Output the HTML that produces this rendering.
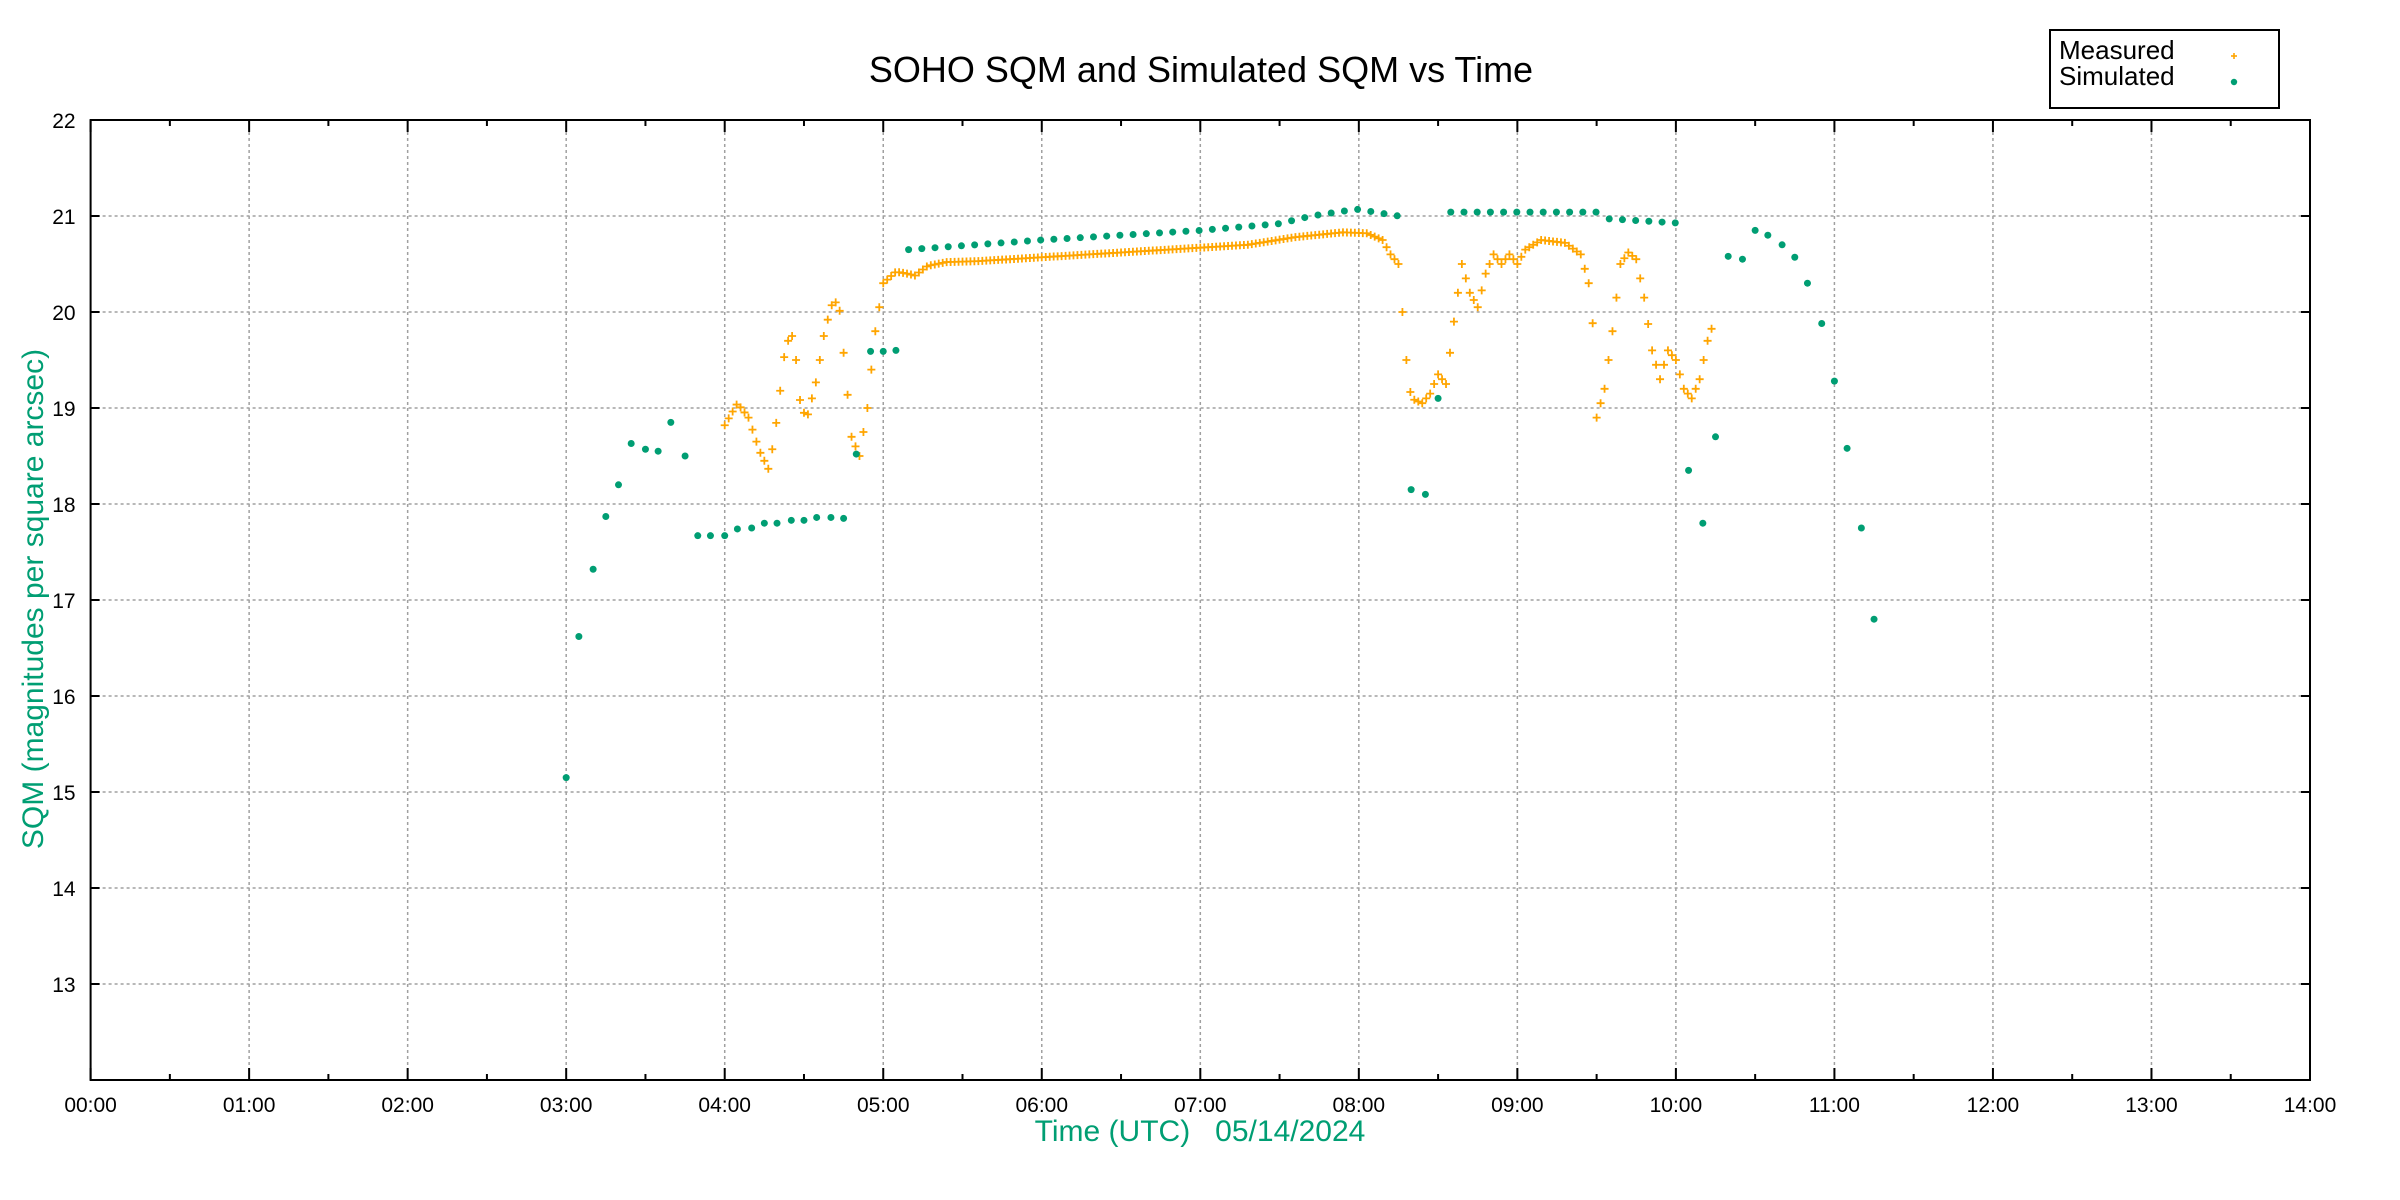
<!DOCTYPE html>
<html><head><meta charset="utf-8"><style>
html,body{margin:0;padding:0;background:#fff;}
svg{display:block;font-family:"Liberation Sans",sans-serif;}
</style></head><body>
<svg id="c" width="2400" height="1200" xmlns="http://www.w3.org/2000/svg">
<rect width="2400" height="1200" fill="#fff"/>
<g id="grid" stroke="#a0a0a0" stroke-width="1.5" stroke-dasharray="3,3"></g>
<g id="axes" stroke="#000" stroke-width="2" fill="none"></g>
<g id="labels" font-size="21" fill="#000"></g>
<g id="meas" stroke="#ffa500" stroke-width="1.8"></g>
<g id="sim" fill="#009e73"></g>
<text x="1201" y="82" font-size="36" text-anchor="middle">SOHO SQM and Simulated SQM vs Time</text>
<text x="1200" y="1141" font-size="30" text-anchor="middle" fill="#009e73">Time (UTC)&#160;&#160;&#160;05/14/2024</text>
<text transform="translate(43,599) rotate(-90)" font-size="30" text-anchor="middle" fill="#009e73">SQM (magnitudes per square arcsec)</text>
<rect x="2050" y="30" width="229" height="78" fill="#fff" stroke="#000" stroke-width="2"/>
<text x="2059" y="59" font-size="26">Measured</text>
<text x="2059" y="85" font-size="26">Simulated</text>
<g stroke="#ffa500" stroke-width="1.6"><line x1="2231" y1="56" x2="2237" y2="56"/><line x1="2234" y1="53" x2="2234" y2="59"/></g>
<circle cx="2234" cy="82" r="3.2" fill="#009e73"/>
</svg>
<script>
var X0=90.6,X1=2310,Y0=120,Y1=1080;
function px(t){return X0+t*(X1-X0)/14;}
function py(v){return Y0+(22-v)*96;}
var ns="http://www.w3.org/2000/svg";
function el(p,n,a,txt){var e=document.createElementNS(ns,n);for(var k in a)e.setAttribute(k,a[k]);if(txt!==undefined)e.textContent=txt;document.getElementById(p).appendChild(e);return e;}
for(var h=1;h<14;h++){el('grid','line',{x1:px(h),y1:Y0,x2:px(h),y2:Y1});}
for(var v=13;v<22;v++){el('grid','line',{x1:X0,y1:py(v),x2:X1,y2:py(v)});}
el('axes','rect',{x:X0,y:Y0,width:X1-X0,height:Y1-Y0});
for(var h=0;h<=28;h++){var t=h/2,L=(h%2==0)?12:6;var x=px(t);
el('axes','line',{x1:x,y1:Y1,x2:x,y2:Y1-L});el('axes','line',{x1:x,y1:Y0,x2:x,y2:Y0+L});
if(h%2==0){var hh=t<10?'0'+t:''+t;el('labels','text',{x:x,y:Y1+32,'text-anchor':'middle'},hh+':00');}}
for(var v=13;v<=22;v++){var y=py(v);el('axes','line',{x1:X0,y1:y,x2:X0+9,y2:y});el('axes','line',{x1:X1,y1:y,x2:X1-9,y2:y});
el('labels','text',{x:X0-15,y:y+8,'text-anchor':'end'},''+v);}
var K=[[4.0,18.82],[4.08,19.05],[4.15,18.9],[4.22,18.55],[4.28,18.35],[4.33,18.9],[4.38,19.6],[4.42,19.8],[4.45,19.5],[4.48,19.0],[4.52,18.9],[4.58,19.3],[4.63,19.8],[4.68,20.1],[4.72,20.1],[4.76,19.4],[4.8,18.7],[4.85,18.5],[4.9,19.0],[4.95,19.8],[5.0,20.3],[5.08,20.42],[5.15,20.4],[5.2,20.38],[5.28,20.48],[5.4,20.52],[5.6,20.53],[6.0,20.57],[6.5,20.62],[7.0,20.67],[7.3,20.7],[7.6,20.78],[7.9,20.83],[8.05,20.82],[8.15,20.75],[8.2,20.6],[8.25,20.5],[8.27,20.1],[8.3,19.5],[8.33,19.1],[8.4,19.05],[8.45,19.15],[8.5,19.35],[8.55,19.25],[8.6,19.9],[8.65,20.5],[8.7,20.2],[8.75,20.05],[8.8,20.4],[8.85,20.6],[8.9,20.5],[8.95,20.6],[9.0,20.5],[9.05,20.65],[9.15,20.75],[9.3,20.72],[9.4,20.6],[9.45,20.3],[9.48,19.8],[9.5,18.9],[9.55,19.2],[9.6,19.8],[9.65,20.5],[9.7,20.62],[9.75,20.55],[9.8,20.15],[9.85,19.6],[9.9,19.3],[9.95,19.6],[10.0,19.5],[10.05,19.2],[10.1,19.1],[10.15,19.3],[10.2,19.7],[10.25,19.95]];
function interp(t){for(var i=0;i<K.length-1;i++){if(t>=K[i][0]&&t<=K[i+1][0]){var f=(t-K[i][0])/(K[i+1][0]-K[i][0]);return K[i][1]+f*(K[i+1][1]-K[i][1]);}}return null;}
var d='';
for(var t=4.0;t<=10.25;t+=0.025){var v=interp(t);if(v==null)continue;var x=px(t),y=py(v);d+='M'+(x-4)+' '+y+'h8M'+x+' '+(y-4)+'v8';}
el('meas','path',{d:d,fill:'none'});
var S=[[3.0,15.15],[3.08,16.62],[3.17,17.32],[3.25,17.87],[3.33,18.2],[3.41,18.63],[3.5,18.57],[3.58,18.55],[3.66,18.85],[3.75,18.5],[3.83,17.67],[3.91,17.67],[4.0,17.67],[4.08,17.74],[4.17,17.75],[4.25,17.8],[4.33,17.8],[4.42,17.83],[4.5,17.83],[4.58,17.86],[4.67,17.86],[4.75,17.85],[4.83,18.52],[4.92,19.59],[5.0,19.59],[5.08,19.6]];
var P=[[5.16,20.65],[6.0,20.75],[7.0,20.85],[7.5,20.92],[7.7,21.0],[7.9,21.05],[8.0,21.07],[8.1,21.04],[8.25,21.0]];
function ip(A,t){for(var i=0;i<A.length-1;i++){if(t>=A[i][0]-1e-6&&t<=A[i+1][0]+1e-6){var f=(t-A[i][0])/(A[i+1][0]-A[i][0]);return A[i][1]+f*(A[i+1][1]-A[i][1]);}}return A[A.length-1][1];}
for(var t=5.16;t<=8.26;t+=0.0833)S.push([t,ip(P,t)]);
S.push([8.33,18.15],[8.42,18.1],[8.5,19.1]);
for(var t=8.58;t<=10.01;t+=0.0833)S.push([t,t<9.55?21.04:20.97-(t-9.58)*0.1]);
S.push([10.08,18.35],[10.17,17.8],[10.25,18.7],[10.33,20.58],[10.42,20.55],[10.5,20.85],[10.58,20.8],[10.67,20.7],[10.75,20.57],[10.83,20.3],[10.92,19.88],[11.0,19.28],[11.08,18.58],[11.17,17.75],[11.25,16.8]);
S.forEach(function(p){el('sim','circle',{cx:px(p[0]),cy:py(p[1]),r:3.5});});
</script>
</body></html>
